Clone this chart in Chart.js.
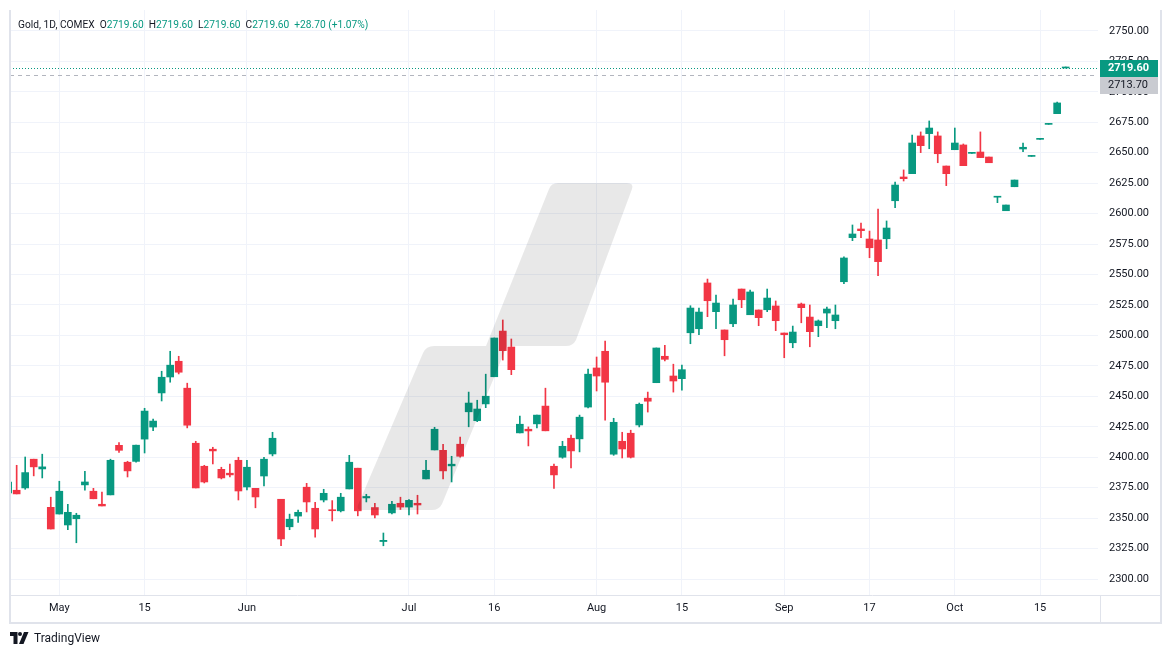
<!DOCTYPE html>
<html><head><meta charset="utf-8">
<script src="https://cdn.jsdelivr.net/npm/chart.js@4.4.1/dist/chart.umd.min.js"></script>
<style>
html,body{margin:0;padding:0;background:#fff;}
#wrap{position:relative;width:1171px;height:657px;overflow:hidden;}
canvas{position:absolute;left:0;top:0;}
#hdr{position:absolute;left:18px;top:19px;font:10.2px Roboto, sans-serif;color:#131722;white-space:nowrap;}
#hdr span{margin-left:5px}
#hdr span:first-child{margin-left:0}
#hdr .g{color:#089981;margin-left:0}
#logo{position:absolute;left:10px;top:631px;font:12px Roboto, sans-serif;color:#131722;display:flex;align-items:center;gap:5px;}
</style></head><body>
<div id="wrap"><canvas id="c" width="1171" height="657"></canvas>
<div id="hdr"></div>
<div id="logo"><svg width="19" height="12" viewBox="0 0 19 12"><path d="M0 0H7.5V12H3.5V4H0Z" fill="#131722"/><circle cx="10" cy="2" r="2" fill="#131722"/><path d="M14 0H18.5L13.5 12H9Z" fill="#131722"/></svg><span>TradingView</span></div>
</div>
<script>
const instrument = 'Gold, 1D, COMEX';
const dates = [
'2024-04-23','2024-04-24','2024-04-25','2024-04-26','2024-04-29','2024-04-30',
'2024-05-01','2024-05-02','2024-05-03','2024-05-06','2024-05-07','2024-05-08','2024-05-09','2024-05-10','2024-05-13','2024-05-14','2024-05-15','2024-05-16','2024-05-17','2024-05-20','2024-05-21','2024-05-22','2024-05-23','2024-05-24','2024-05-28','2024-05-29','2024-05-30','2024-05-31',
'2024-06-03','2024-06-04','2024-06-05','2024-06-06','2024-06-07','2024-06-10','2024-06-11','2024-06-12','2024-06-13','2024-06-14','2024-06-17','2024-06-18','2024-06-20','2024-06-21','2024-06-24','2024-06-25','2024-06-26','2024-06-27','2024-06-28',
'2024-07-01','2024-07-02','2024-07-03','2024-07-05','2024-07-08','2024-07-09','2024-07-10','2024-07-11','2024-07-12','2024-07-15','2024-07-16','2024-07-17','2024-07-18','2024-07-19','2024-07-22','2024-07-23','2024-07-24','2024-07-25','2024-07-26','2024-07-29','2024-07-30','2024-07-31',
'2024-08-01','2024-08-02','2024-08-05','2024-08-06','2024-08-07','2024-08-08','2024-08-09','2024-08-12','2024-08-13','2024-08-14','2024-08-15','2024-08-16','2024-08-19','2024-08-20','2024-08-21','2024-08-22','2024-08-23','2024-08-26','2024-08-27','2024-08-28','2024-08-29','2024-08-30',
'2024-09-03','2024-09-04','2024-09-05','2024-09-06','2024-09-09','2024-09-10','2024-09-11','2024-09-12','2024-09-13','2024-09-16','2024-09-17','2024-09-18','2024-09-19','2024-09-20','2024-09-23','2024-09-24','2024-09-25','2024-09-26','2024-09-27','2024-09-30',
'2024-10-01','2024-10-02','2024-10-03','2024-10-04','2024-10-07','2024-10-08','2024-10-09','2024-10-10','2024-10-11','2024-10-14','2024-10-15','2024-10-16','2024-10-17','2024-10-18'];
const open = [
2370.7,2372.9,2374.8,2398.4,2390.4,2358.9,
2353.4,2344.4,2349.5,2377.3,2372.1,2361.4,2369.1,2409.8,2395.9,2396.6,2414.9,2424.8,2452.8,2465.9,2478.8,2456.7,2411.5,2392.6,2406.6,2390.1,2386.9,2397.5,
2375.6,2374.5,2384.6,2402.7,2365.5,2342.9,2351.7,2375.4,2358.1,2364.9,2356.9,2356.0,2374.0,2391.0,2366.6,2358.7,2330.8,2354.3,2362.2,
2359.1,2362.2,2382.2,2406.0,2405.7,2392.9,2410.7,2437.3,2430.0,2443.8,2466.1,2503.6,2490.5,2420.0,2423.0,2427.4,2442.0,2392.6,2400.0,2415.6,2415.1,2441.2,
2473.3,2487.0,2402.5,2413.1,2419.7,2426.5,2448.5,2461.2,2482.9,2466.7,2464.5,2502.2,2505.5,2543.1,2519.5,2504.5,2509.6,2538.1,2517.0,2520.9,2521.1,2524.2,
2502.0,2494.0,2525.8,2515.1,2508.0,2518.4,2512.1,2544.1,2580.3,2587.4,2579.2,2578.4,2579.4,2610.6,2630.1,2632.8,2663.8,2665.7,2663.8,2639.1,
2652.5,2656.4,2649.5,2650.6,2646.5,2613.5,2602.4,2622.1,2653.1,2647.0,2661.0,2673.3,2682.1,2719.6];
const high = [
2380.0,2393.4,2400.2,2398.4,2402.5,2367.2,
2380.3,2361.4,2354.0,2388.5,2374.5,2371.3,2398.4,2412.0,2396.7,2409.9,2440.2,2431.4,2470.6,2487.0,2482.9,2460.8,2413.1,2393.4,2408.2,2391.8,2394.3,2400.0,
2397.5,2374.5,2400.0,2420.5,2365.5,2353.3,2356.7,2378.6,2363.0,2373.7,2364.4,2370.4,2401.6,2391.0,2369.6,2362.2,2337.8,2363.8,2367.2,
2365.2,2368.8,2397.5,2424.6,2410.7,2400.8,2416.5,2453.5,2446.8,2468.2,2497.9,2512.7,2497.1,2433.7,2424.9,2434.6,2456.7,2394.3,2413.1,2418.1,2434.6,2472.3,
2482.3,2495.4,2432.0,2420.5,2422.2,2444.5,2453.5,2489.7,2491.9,2476.4,2475.6,2524.4,2522.5,2546.3,2533.2,2504.5,2529.9,2538.1,2537.3,2520.9,2538.1,2528.3,
2502.0,2507.7,2526.6,2525.0,2512.7,2523.3,2525.0,2564.6,2590.7,2592.3,2585.7,2603.8,2594.0,2626.0,2635.9,2664.6,2667.1,2676.1,2667.1,2639.1,
2670.3,2657.2,2649.8,2667.1,2646.5,2613.8,2607.1,2627.6,2658.0,2647.2,2661.2,2673.5,2691.7,2719.6];
const low = [
2370.0,2369.9,2373.7,2384.7,2383.0,2341.1,
2353.4,2340.5,2329.8,2372.9,2365.9,2360.0,2369.1,2404.0,2383.8,2395.9,2403.5,2421.8,2446.2,2461.6,2468.4,2424.1,2374.8,2378.9,2394.5,2382.2,2383.8,2364.9,
2373.1,2358.5,2376.4,2401.1,2327.3,2340.5,2346.4,2355.1,2334.3,2363.3,2347.7,2355.1,2374.0,2351.9,2363.3,2350.1,2327.3,2353.4,2357.1,
2352.6,2353.4,2382.2,2406.0,2382.2,2379.7,2400.0,2425.0,2429.2,2440.7,2466.1,2479.8,2467.8,2420.0,2409.3,2424.1,2421.7,2374.5,2399.2,2391.2,2404.4,2440.4,
2454.4,2430.5,2401.6,2399.4,2399.4,2424.9,2437.1,2461.2,2479.0,2453.5,2455.0,2493.2,2500.6,2515.4,2505.5,2483.3,2507.2,2522.8,2517.0,2508.0,2519.5,2503.9,
2481.7,2489.9,2510.4,2490.7,2499.0,2506.3,2505.5,2542.5,2577.8,2580.3,2563.8,2549.0,2571.2,2604.9,2626.8,2632.8,2650.1,2653.3,2641.8,2623.0,
2652.5,2639.4,2649.5,2646.0,2641.8,2609.0,2602.4,2622.1,2650.9,2647.0,2661.0,2673.3,2682.1,2719.6];
const close = [
2379.7,2369.9,2387.4,2392.1,2392.1,2341.1,
2372.1,2354.8,2352.4,2379.7,2365.9,2360.0,2397.5,2405.7,2388.8,2409.9,2437.9,2429.7,2465.7,2475.6,2469.8,2426.3,2374.8,2379.7,2405.2,2383.0,2385.5,2372.3,
2391.8,2367.4,2398.4,2415.6,2332.9,2349.1,2354.8,2363.3,2341.1,2370.4,2356.1,2367.2,2395.9,2356.0,2367.8,2352.6,2331.8,2361.4,2359.1,
2364.6,2360.8,2389.3,2423.0,2388.8,2394.3,2400.8,2444.5,2439.6,2450.1,2497.9,2487.5,2471.9,2427.1,2421.6,2434.6,2421.7,2385.5,2409.0,2405.2,2432.9,2468.2,
2466.7,2461.6,2428.7,2406.8,2400.0,2443.5,2446.0,2489.7,2480.4,2462.6,2471.9,2522.5,2519.2,2528.5,2526.6,2496.5,2525.0,2529.3,2535.7,2514.6,2530.7,2512.1,
2500.6,2502.8,2522.8,2503.1,2511.9,2521.7,2516.8,2563.6,2583.3,2586.0,2572.0,2560.6,2588.2,2623.5,2628.7,2658.0,2655.8,2670.3,2649.2,2632.8,
2658.0,2639.4,2649.8,2646.0,2641.8,2613.8,2607.1,2627.6,2654.5,2647.2,2661.2,2673.5,2690.9,2719.6];
const priceTicks = [2300,2325,2350,2375,2400,2425,2450,2475,2500,2525,2550,2575,2600,2625,2650,2675,2700,2725,2750];
const timeTickDates = ['2024-05-01','2024-05-15','2024-06-03','2024-07-01','2024-07-16','2024-08-01','2024-08-15','2024-09-03','2024-09-17','2024-10-01','2024-10-15'];
const timeTickLabels = ['May','15','Jun','Jul','16','Aug','15','Sep','17','Oct','15'];
const lastLineValue = 2719.60;
const secondLineValue = 2713.70;

const UP = '#089981', DOWN = '#f23645', FRAME = '#e0e3eb';
const n = dates.length;
const colors = close.map((c, i) => c >= open[i] ? UP : DOWN);
const wickData = dates.map((d, i) => ({x: i, y: [low[i], high[i]]}));
const bodyData = dates.map((d, i) => ({x: i, y: [open[i], close[i]]}));
const tickIndex = timeTickDates.map(d => dates.indexOf(d));

// header
const L = n - 1;
const chg = close[L] - close[L - 1];
const pct = chg / close[L - 1] * 100;
const f2 = v => v.toFixed(2);
document.getElementById('hdr').innerHTML =
  '<span>' + instrument + '</span>' +
  '<span>O<b class="g" style="font-weight:400">' + f2(open[L]) + '</b></span>' +
  '<span>H<b class="g" style="font-weight:400">' + f2(high[L]) + '</b></span>' +
  '<span>L<b class="g" style="font-weight:400">' + f2(low[L]) + '</b></span>' +
  '<span>C<b class="g" style="font-weight:400">' + f2(close[L]) + '</b></span>' +
  '<span class="g" style="margin-left:5px">' + (chg >= 0 ? '+' : '') + f2(chg) + ' (' + (pct >= 0 ? '+' : '') + f2(pct) + '%)</span>';

const overlayPlugin = {
  id: 'overlay',
  afterDatasetsDraw(chart) {
    const ctx = chart.ctx, a = chart.chartArea, y = chart.scales.y;
    ctx.save();
    ctx.beginPath(); ctx.rect(a.left, a.top, a.right - a.left, a.bottom - a.top); ctx.clip();
    // watermark shape (decorative)
    ctx.fillStyle = 'rgba(0,0,0,0.09)';
    ctx.beginPath();
    ctx.moveTo(358, 505);
    ctx.lineTo(423, 353);
    ctx.quadraticCurveTo(426, 346, 434, 346);
    ctx.lineTo(486, 346);
    ctx.lineTo(549, 189);
    ctx.quadraticCurveTo(551, 183, 558, 183);
    ctx.lineTo(627, 183);
    ctx.quadraticCurveTo(634, 183, 632, 189);
    ctx.lineTo(576, 340);
    ctx.quadraticCurveTo(573, 346, 566, 346);
    ctx.lineTo(507, 346);
    ctx.lineTo(442, 504);
    ctx.quadraticCurveTo(439, 510, 432, 510);
    ctx.lineTo(362, 510);
    ctx.quadraticCurveTo(356, 510, 358, 505);
    ctx.closePath();
    ctx.fill();
    // price lines
    const y1 = Math.round(y.getPixelForValue(lastLineValue)) + 0.5;
    ctx.strokeStyle = UP; ctx.lineWidth = 1; ctx.setLineDash([1, 2]);
    ctx.beginPath(); ctx.moveTo(a.left, y1); ctx.lineTo(a.right, y1); ctx.stroke();
    const y2 = Math.round(y.getPixelForValue(secondLineValue)) + 0.5;
    ctx.strokeStyle = '#b2b5be'; ctx.setLineDash([4, 4]);
    ctx.beginPath(); ctx.moveTo(a.left, y2); ctx.lineTo(a.right, y2); ctx.stroke();
    ctx.restore();
  },
  afterDraw(chart) {
    const ctx = chart.ctx, a = chart.chartArea, y = chart.scales.y;
    ctx.save();
    const y1 = Math.round(y.getPixelForValue(lastLineValue));
    const x0 = a.right + 2, w = 58, h = 17;
    ctx.fillStyle = UP;
    ctx.fillRect(x0, y1 - 8, w, h);
    ctx.fillStyle = '#c9cbd1';
    ctx.fillRect(x0, y1 + 9, w, h);
    ctx.font = 'bold 11px Roboto';
    ctx.textBaseline = 'middle'; ctx.textAlign = 'left';
    ctx.fillStyle = '#ffffff';
    ctx.fillText(f2(lastLineValue), a.right + 10, y1 + 0.5);
    ctx.font = '11px Roboto';
    ctx.fillStyle = '#131722';
    ctx.fillText(f2(secondLineValue), a.right + 10, y1 + 17.5);
    // frame lines
    ctx.strokeStyle = FRAME; ctx.lineWidth = 1;
    ctx.beginPath();
    ctx.moveTo(a.left, a.bottom + 0.5); ctx.lineTo(1160, a.bottom + 0.5);
    ctx.moveTo(a.right + 2.5, a.bottom); ctx.lineTo(a.right + 2.5, 622);
    ctx.stroke();
    ctx.lineWidth = 2;
    ctx.beginPath();
    ctx.moveTo(10, 10); ctx.lineTo(10, 623); ctx.lineTo(1161, 623); ctx.lineTo(1161, 10);
    ctx.stroke();
    ctx.restore();
  }
};

new Chart(document.getElementById('c'), {
  type: 'bar',
  data: {
    datasets: [
      {label: 'wick', data: wickData, backgroundColor: colors, barThickness: 1, minBarLength: 1, grouped: false, order: 2},
      {label: 'body', data: bodyData, backgroundColor: colors, barThickness: 7, minBarLength: 1, grouped: false, order: 1}
    ]
  },
  options: {
    responsive: false,
    animation: false,
    devicePixelRatio: 1,
    layout: {padding: {left: 10, top: 10, right: 11, bottom: 35}},
    plugins: {legend: {display: false}, tooltip: {enabled: false}},
    scales: {
      x: {
        type: 'linear', min: 0.219, max: 127.79, offset: false,
        grid: {color: '#f0f3fa', drawTicks: false, offset: false},
        border: {display: false},
        afterBuildTicks: s => { s.ticks = tickIndex.map(v => ({value: v})); },
        afterFit: s => { s.height = 27; s.paddingLeft = 0; s.paddingRight = 0; },
        ticks: {
          padding: 7, color: '#131722', font: {family: 'Roboto', size: 11}, maxRotation: 0, autoSkip: false,
          callback: (v) => { const k = tickIndex.indexOf(v); return k >= 0 ? timeTickLabels[k] : ''; }
        }
      },
      y: {
        position: 'right', min: 2286.9, max: 2767.2,
        grid: {color: '#f0f3fa', drawTicks: false},
        border: {display: false},
        afterBuildTicks: s => { s.ticks = priceTicks.map(v => ({value: v})); },
        afterFit: s => { s.width = 62; s.paddingTop = 0; s.paddingBottom = 0; },
        ticks: {padding: 11, color: '#131722', font: {family: 'Roboto', size: 11}, callback: v => v.toFixed(2)}
      }
    }
  },
  plugins: [overlayPlugin]
});
</script>
</body></html>
